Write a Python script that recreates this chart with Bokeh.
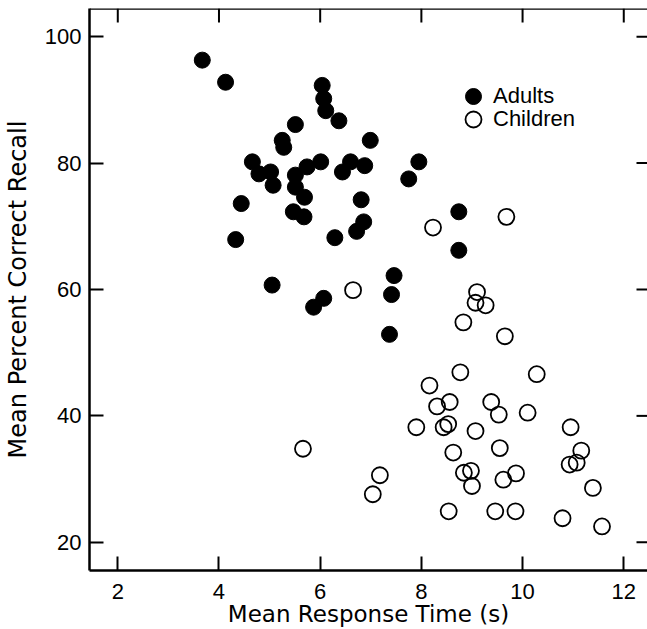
import math
from bokeh.plotting import figure
from bokeh.models import (ColumnDataSource, Range1d, LinearAxis, FixedTicker,
                          Legend, LegendItem, Span)
from bokeh.embed import file_html
from bokeh.resources import INLINE

# ---- data ----
adults_rt = [3.67, 4.13, 6.04, 6.07, 6.11, 6.37, 5.51, 5.25, 5.28, 6.99,
             4.66, 6.01, 7.95, 6.60, 6.88, 6.44, 4.79, 5.02, 5.07, 5.51,
             5.51, 5.74, 5.69, 7.75, 4.44, 5.47, 5.68, 6.81, 6.86, 6.72,
             6.29, 4.33, 8.74, 8.74, 5.05, 6.07, 5.87, 7.46, 7.41, 7.37]
adults_recall = [96.3, 92.8, 92.3, 90.2, 88.3, 86.7, 86.1, 83.6, 82.5, 83.6,
                 80.2, 80.2, 80.2, 80.2, 79.6, 78.6, 78.3, 78.6, 76.5, 78.1,
                 76.2, 79.4, 74.6, 77.5, 73.6, 72.3, 71.5, 74.2, 70.7, 69.2,
                 68.2, 67.9, 72.3, 66.2, 60.7, 58.6, 57.2, 62.2, 59.2, 52.9]

children_rt = [8.23, 9.68, 6.65, 9.10, 9.07, 9.27, 8.83, 9.65, 8.77, 10.28,
               8.16, 8.31, 8.56, 9.38, 9.53, 10.10, 7.90, 8.44, 8.53, 9.07,
               10.95, 9.55, 8.63, 11.16, 7.18, 7.04, 8.84, 8.98, 9.00, 9.62,
               9.87, 10.93, 11.07, 11.39, 8.54, 9.46, 9.86, 10.79, 11.57, 5.66]
children_recall = [69.8, 71.5, 59.9, 59.6, 57.9, 57.5, 54.8, 52.6, 46.9, 46.6,
                   44.8, 41.5, 42.2, 42.2, 40.2, 40.5, 38.2, 38.2, 38.7, 37.6,
                   38.2, 34.9, 34.2, 34.5, 30.6, 27.6, 31.0, 31.3, 28.9, 29.9,
                   30.9, 32.3, 32.6, 28.6, 24.9, 24.9, 24.9, 23.8, 22.5, 34.8]

x_ticks = [2, 4, 6, 8, 10, 12]
y_ticks = [20, 40, 60, 80, 100]

x_label = "Mean Response Time (s)"
y_label = "Mean Percent Correct Recall"
series_names = ["Adults", "Children"]

X_START, X_END = 1.441, 12.469
Y_START, Y_END = 15.53, 104.47

# ---- figure ----
p = figure(width=647, height=629, output_backend="svg", toolbar_location=None,
           x_range=Range1d(X_START, X_END), y_range=Range1d(Y_START, Y_END),
           min_border_left=89, min_border_right=0, min_border_top=8,
           min_border_bottom=58, x_axis_location=None, y_axis_location=None)
p.grid.visible = False
p.outline_line_color = None
p.background_fill_color = "white"
p.border_fill_color = "white"

TICK_FONT = "Liberation Sans"
LABEL_FONT = "DejaVu Sans"


def style_axis(ax):
    ax.major_tick_in = 14
    ax.major_tick_out = 0
    ax.minor_tick_in = 0
    ax.minor_tick_out = 0
    ax.major_tick_line_width = 2
    ax.major_tick_line_color = "black"
    ax.axis_line_width = 2.5
    ax.axis_line_color = "black"
    ax.major_label_text_font = TICK_FONT
    ax.major_label_text_color = "black"
    ax.major_label_text_font_size = "22px"
    ax.axis_label_text_font = LABEL_FONT
    ax.axis_label_text_font_size = "23px"
    ax.axis_label_text_font_style = "normal"
    ax.axis_label_text_color = "black"


xb = LinearAxis(ticker=FixedTicker(ticks=x_ticks), axis_label=x_label)
style_axis(xb)
xb.major_label_standoff = 13
xb.axis_label_standoff = -1
p.add_layout(xb, "below")

yl = LinearAxis(ticker=FixedTicker(ticks=y_ticks), axis_label=y_label)
style_axis(yl)
yl.major_label_standoff = 8
yl.axis_label_standoff = 10
yl.axis_label_text_font_size = "24px"
p.add_layout(yl, "left")

# top frame line and inward ticks on the top / right edges
p.add_layout(Span(location=Y_END, dimension="width", line_color="black",
                  line_width=2.5))
p.ray(x=x_ticks, y=[Y_END] * len(x_ticks), length=14, angle=-math.pi / 2,
      length_units="screen", line_color="black", line_width=2)
p.ray(x=[X_END] * len(y_ticks), y=y_ticks, length=11, angle=math.pi,
      length_units="screen", line_color="black", line_width=2)

src_a = ColumnDataSource(dict(x=adults_rt, y=adults_recall))
src_c = ColumnDataSource(dict(x=children_rt, y=children_recall))

r_a = p.scatter("x", "y", source=src_a, size=16, fill_color="black",
                line_color="black", line_width=1)
r_c = p.scatter("x", "y", source=src_c, size=16, fill_color=None,
                line_color="black", line_width=1.8)


def make_legend(name, renderer, loc):
    return Legend(items=[LegendItem(label=name, renderers=[renderer])],
                  location=loc, padding=0, margin=0, spacing=0,
                  glyph_width=40, glyph_height=40, label_height=23,
                  label_standoff=0,
                  label_text_font=TICK_FONT, label_text_font_size="22px",
                  label_text_color="black",
                  border_line_color=None, background_fill_alpha=0)


p.add_layout(make_legend(series_names[0], r_a, (364, 454)), "center")
p.add_layout(make_legend(series_names[1], r_c, (364, 431)), "center")

open("out.html", "w").write(file_html(p, INLINE))
